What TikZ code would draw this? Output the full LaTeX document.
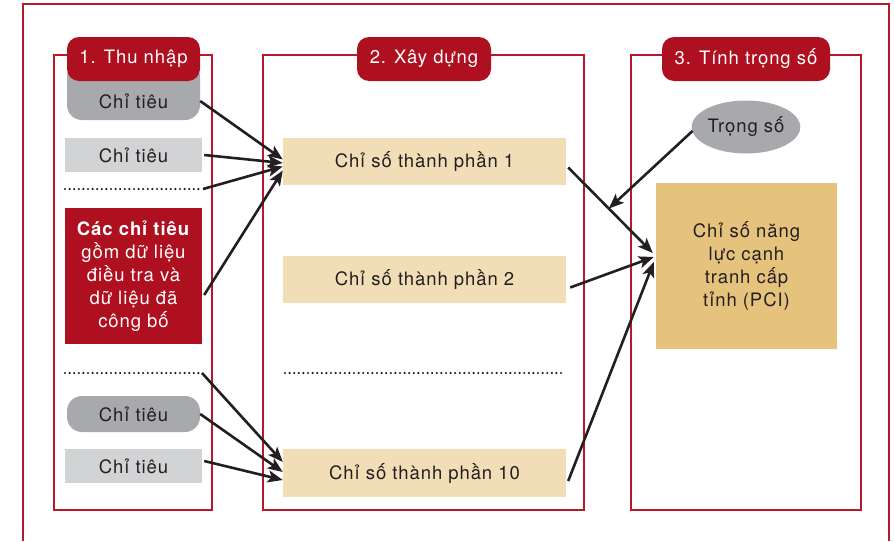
\documentclass[tikz,border=0pt]{standalone}
\usepackage{fontspec}
\setmainfont{TeX Gyre Heros}[LetterSpace=5]
\usetikzlibrary{arrows.meta,shapes.geometric,calc}
\definecolor{pred}{HTML}{B8192A}
\definecolor{tred}{HTML}{AE1020}
\definecolor{ink}{HTML}{231F20}
\definecolor{gdark}{HTML}{A7A9AC}
\definecolor{glight}{HTML}{D1D3D4}
\definecolor{beige}{HTML}{F1DDB6}
\definecolor{gold}{HTML}{E6C37D}
\begin{document}
\begin{tikzpicture}[x=1pt,y=-1pt,
  every node/.style={font=\fontsize{18.5}{23}\selectfont, text=ink, inner sep=0pt},
  panel/.style={draw=pred, line width=2pt},
  tab/.style={fill=tred, rounded corners=12pt, text=white, minimum height=44pt},
  lgbox/.style={fill=glight, minimum width=137pt, minimum height=34pt},
  dgbox/.style={fill=gdark, rounded corners=15pt, minimum width=133pt, minimum height=36pt},
  compbox/.style={fill=beige, minimum width=283pt, minimum height=47pt},
  dots/.style={draw=ink, line width=2.4pt, line cap=round, dash pattern=on 0pt off 4.6pt},
  arr/.style={draw=ink, line width=2.6pt, -{Stealth[length=15pt,width=12pt,inset=3.5pt]}},
]
\useasboundingbox (0,0) rectangle (894,541);
% outer frame
\draw[panel] (23,541) -- (23,4) -- (889,4) -- (889,541);
% panels
\draw[panel] (54,55) rectangle (212,510);
\draw[panel] (263,55) rectangle (584,510);
\draw[panel] (631,55) rectangle (861,510);

% column 1
\fill[gdark, rounded corners=15pt] (67,62) rectangle (200,120);
\node[minimum width=133pt, minimum height=38pt] (ct1) at (133.5,101) {Chỉ tiêu};
\node[tab, minimum width=133pt] (tab1) at (133.5,59) {1. Thu nhập};
\node[lgbox] (ct2) at (133.5,155) {Chỉ tiêu};
\path[dots] (65,189) -- (202,189) coordinate (d1e);
\node[fill=tred, minimum width=137pt, minimum height=136pt, align=center, text=white] (red) at (133.5,276)
  {\textbf{Các chỉ tiêu}\\gồm dữ liệu\\điều tra và\\dữ liệu đã\\công bố};
\path[dots] (65,373) -- (202,373) coordinate (d2e);
\node[dgbox] (ct3) at (133.5,414) {Chỉ tiêu};
\node[lgbox] (ct4) at (133.5,466) {Chỉ tiêu};

% column 2
\node[tab, minimum width=134pt] (tab2) at (424,59) {2. Xây dựng};
\node[compbox] (c1) at (424.5,161.5) {Chỉ số thành phần 1};
\node[compbox] (c2) at (424.5,279.5) {Chỉ số thành phần 2};
\path[dots] (285,373) coordinate (d3s) -- (565,373) coordinate (d3e);
\node[compbox, minimum height=48pt] (c10) at (424.5,473) {Chỉ số thành phần 10};

% column 3
\node[tab, minimum width=168pt] (tab3) at (746,59) {3. Tính trọng số};
\node[ellipse, fill=gdark, minimum width=106pt, minimum height=53pt] (w) at (746,127) {Trọng số};
\node[fill=gold, minimum width=181pt, minimum height=166pt, align=center] (pci) at (746.5,266)
  {Chỉ số năng\\lực cạnh\\tranh cấp\\tỉnh (PCI)};

% arrows into c1
\draw[arr] (ct1.east) -- ($(c1.west)+(0,-2)$);
\draw[arr] ($(ct2.east)+(2,0)$) -- ($(c1.west)+(0,1.5)$);
\draw[arr] ($(d1e)+(1,0)$) -- ($(c1.west)+(0,5)$);
\draw[arr] ($(red.east)+(2,19)$) -- ($(c1.west)+(0,9)$);
% arrows into c10
\draw[arr] (d2e) -- ($(c10.west)+(0,-11)$);
\draw[arr] (ct3.east) -- ($(c10.west)+(0,-1)$);
\draw[arr] ($(ct4.east)+(2,-5)$) -- ($(c10.west)+(0,7)$);
% arrows into pci
\draw[arr] ($(c1.east)+(2,6)$) -- coordinate[pos=0.48] (mid) ($(pci.west)+(-3,-13)$);
\draw[arr] ($(c2.east)+(4,8)$) -- ($(pci.west)+(-2,-9)$);
\draw[arr] ($(c10.east)+(2,8)$) -- ($(pci.west)+(-2,-4)$);
\draw[arr] ($(w.west)+(1,4)$) -- (mid);
\end{tikzpicture}
\end{document}
